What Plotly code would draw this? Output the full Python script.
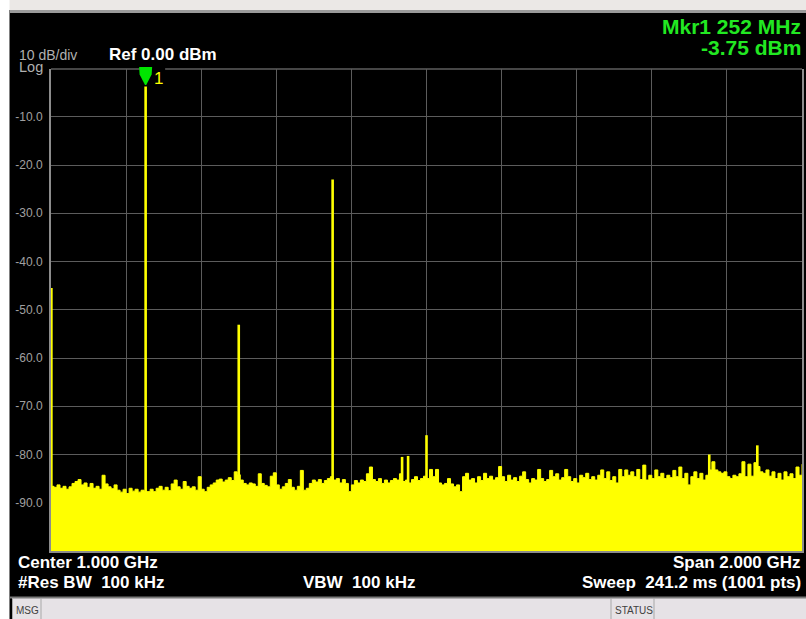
import plotly.graph_objects as go

# ---------------- data ----------------
center_ghz = 1.0
span_ghz = 2.0
noise_step_mhz = 8
noise_dbm = [
    -86.6, -86.8, -86.3, -87.0, -86.6, -87.2, -86.7, -86.0, -85.6, -85.2,
    -86.3, -85.9, -86.8, -86.0, -87.0, -86.6, -87.2, -84.3, -86.1, -86.7,
    -87.1, -86.3, -87.4, -87.8, -87.2, -88.1, -87.0, -87.6, -87.2, -87.8,
    -87.4, -87.6, -87.7, -87.2, -87.7, -87.0, -86.6, -87.4, -86.8, -87.5,
    -86.1, -85.3, -86.7, -87.2, -85.6, -86.6, -87.0, -86.7, -87.4, -84.6,
    -87.2, -87.7, -86.8, -86.3, -85.9, -85.3, -85.1, -85.7, -85.3, -84.8,
    -85.4, -83.6, -84.2, -85.3, -86.0, -86.3, -85.9, -86.1, -86.6, -84.0,
    -86.0, -86.4, -86.7, -84.5, -83.8, -86.3, -87.2, -86.7, -86.0, -85.2,
    -86.8, -87.4, -86.6, -83.3, -87.4, -87.0, -86.0, -85.3, -85.7, -85.2,
    -86.0, -85.4, -85.0, -84.6, -85.3, -85.0, -85.9, -85.2, -86.0, -87.7,
    -86.3, -85.4, -85.9, -85.3, -85.6, -84.0, -82.6, -85.2, -85.6, -85.0,
    -86.0, -85.3, -85.9, -85.4, -85.0, -85.3, -84.0, -85.6, -85.3, -85.9,
    -85.2, -84.6, -85.4, -85.0, -84.5, -85.0, -83.1, -84.6, -83.1, -85.9,
    -86.3, -86.0, -85.0, -86.1, -86.7, -86.3, -87.7, -84.6, -83.9, -85.3,
    -85.0, -85.9, -84.6, -85.4, -83.9, -85.0, -84.5, -85.3, -84.8, -82.5,
    -84.6, -85.6, -84.3, -85.3, -84.8, -85.6, -84.5, -83.6, -85.2, -85.9,
    -85.0, -85.3, -83.1, -85.0, -85.6, -85.2, -83.3, -84.6, -84.0, -85.3,
    -84.8, -83.1, -84.6, -85.6, -85.0, -85.9, -84.3, -84.8, -83.9, -85.2,
    -84.6, -85.3, -84.3, -83.2, -85.0, -83.6, -85.4, -84.6, -85.9, -83.1,
    -84.6, -83.2, -84.3, -83.6, -84.6, -83.1, -85.2, -82.2, -85.3, -84.3,
    -85.0, -83.2, -84.6, -83.9, -85.0, -84.3, -84.8, -83.3, -84.6, -82.6,
    -85.0, -83.9, -86.3, -84.6, -83.6, -85.0, -83.9, -85.3, -84.3, -83.2,
    -81.5, -83.2, -83.6, -83.9, -83.6, -84.6, -85.0, -84.3, -84.6, -84.0,
    -81.5, -84.6, -82.0, -84.5, -81.7, -82.5, -83.6, -83.9, -83.2, -84.5,
    -83.6, -85.0, -83.9, -85.3, -83.6, -84.6, -84.0, -85.0, -82.6, -84.3,
    -82.0,
]
noise_mhz = [i * noise_step_mhz for i in range(len(noise_dbm))]

spike_mhz = [1, 252, 500, 750, 935, 951, 1000, 1753, 1881]
spike_dbm = [-45.5, -3.75, -53.1, -23.0, -80.5, -80.3, -76.0, -80.0, -78.1]

mkr_mhz = 252
mkr_dbm = -3.75

ref_dbm = 0.0
db_per_div = 10
ytick_vals = [-10, -20, -30, -40, -50, -60, -70, -80, -90]
ytick_text = ["-10.0", "-20.0", "-30.0", "-40.0", "-50.0", "-60.0", "-70.0", "-80.0", "-90.0"]
xgrid_vals = [200, 400, 600, 800, 1000, 1200, 1400, 1600, 1800]

# ---------------- figure ----------------
W, H = 806, 619
def px(x):
    return x / W
def py(y):
    return 1 - y / H

f_lo = (center_ghz - span_ghz / 2) * 1000
f_hi = (center_ghz + span_ghz / 2) * 1000
y_lo = ref_dbm - 10 * db_per_div

XDOM = [px(51), px(802)]
YDOM = [py(551), py(68.5)]

YEL = "#ffff00"
GRID = "#5c5c5c"
FRAME = "#8c8c8c"
FONT = "Liberation Sans, Arial, sans-serif"

fig = go.Figure()

# baseline for fill
fig.add_trace(go.Scatter(x=[f_lo, f_hi], y=[y_lo, y_lo], mode="lines",
                         line=dict(width=0, color=YEL), hoverinfo="skip",
                         showlegend=False))
# noise floor
fig.add_trace(go.Scatter(x=noise_mhz, y=noise_dbm, mode="lines",
                         line=dict(color=YEL, width=1, shape="hv"),
                         fill="tonexty", fillcolor=YEL, showlegend=False))
# spurs / signals
sx, sy = [], []
for f, d in zip(spike_mhz, spike_dbm):
    sx += [f, f, None]
    sy += [y_lo, d, None]
fig.add_trace(go.Scatter(x=sx, y=sy, mode="lines",
                         line=dict(color=YEL, width=2.6), showlegend=False))

fig.update_layout(
    width=W, height=H,
    margin=dict(l=0, r=0, t=0, b=0),
    paper_bgcolor="black", plot_bgcolor="black",
    showlegend=False,
    xaxis=dict(domain=XDOM, range=[f_lo, f_hi],
               tickvals=xgrid_vals, showticklabels=False, ticks="",
               showgrid=True, gridcolor=GRID, gridwidth=1, zeroline=False,
               showline=True, linecolor=FRAME, linewidth=2, mirror=False,
               layer="below traces", fixedrange=True),
    yaxis=dict(domain=YDOM, range=[y_lo, ref_dbm],
               tickvals=ytick_vals, ticktext=ytick_text,
               ticks="outside", ticklen=4, tickcolor="rgba(0,0,0,0)",
               tickfont=dict(family=FONT, size=12, color="#a0a0a0"),
               showgrid=True, gridcolor=GRID, gridwidth=1, zeroline=False,
               showline=True, linecolor=FRAME, linewidth=2, mirror=True,
               layer="below traces", fixedrange=True),
)

# marker position in paper fraction (derived from the marker data), so the glyph is not clipped
mkr_xp = XDOM[0] + (mkr_mhz - f_lo) / (f_hi - f_lo) * (XDOM[1] - XDOM[0])
mkr_yp = YDOM[0] + (mkr_dbm - y_lo) / (ref_dbm - y_lo) * (YDOM[1] - YDOM[0])

shapes = []
# top frame in two pieces, gap around the marker
shapes.append(dict(type="line", xref="x", yref="y", x0=f_lo, x1=mkr_mhz - 12,
                   y0=ref_dbm, y1=ref_dbm, line=dict(color=FRAME, width=2), layer="below"))
shapes.append(dict(type="line", xref="x", yref="y", x0=mkr_mhz + 52, x1=f_hi,
                   y0=ref_dbm, y1=ref_dbm, line=dict(color=FRAME, width=2), layer="below"))
# marker glyph (shield shape pointing down at the marker peak, sized in pixels)
shapes.append(dict(type="path", xref="paper", yref="paper", xsizemode="pixel", ysizemode="pixel",
                   xanchor=mkr_xp, yanchor=mkr_yp,
                   path="M -6.5 19.5 L 6.5 19.5 L 6 12 L 0.6 1.5 L -0.6 1.5 L -6 12 Z",
                   fillcolor="#00e600", line=dict(width=0), layer="above"))
# window chrome
shapes.append(dict(type="rect", xref="paper", yref="paper", x0=0, x1=1,
                   y0=py(10), y1=1, fillcolor="#ebe8e6", line=dict(width=0)))
shapes.append(dict(type="line", xref="paper", yref="paper", x0=px(10), x1=1,
                   y0=py(11.5), y1=py(11.5), line=dict(color="#9a9a9a", width=3)))
shapes.append(dict(type="rect", xref="paper", yref="paper", x0=0, x1=px(9.5),
                   y0=0, y1=1, fillcolor="#ffffff", line=dict(width=0)))
shapes.append(dict(type="rect", xref="paper", yref="paper", x0=px(12), x1=1,
                   y0=0, y1=py(598), fillcolor="#e6e2e6", line=dict(width=0)))
shapes.append(dict(type="line", xref="paper", yref="paper", x0=px(10), x1=1,
                   y0=py(597.5), y1=py(597.5), line=dict(color="#7a7a7a", width=2)))
for xb in (12.5, 41, 611, 654):
    shapes.append(dict(type="line", xref="paper", yref="paper", x0=px(xb), x1=px(xb),
                       y0=0, y1=py(598), line=dict(color="#a8a8a8", width=1)))
fig.update_layout(shapes=shapes)

ann = []
def text(x, y, s, size, color, bold=False, anchor="left"):
    ann.append(dict(x=px(x), y=py(y), xref="paper", yref="paper", text=("<b>%s</b>" % s) if bold else s,
                    showarrow=False, xanchor=anchor, yanchor="middle",
                    font=dict(family=FONT, size=size, color=color)))

text(17, 54.5, "10 dB/div", 14, "#b0b0b0")
text(17, 66.5, "Log", 14.5, "#b0b0b0")
text(107, 54, "Ref %.2f dBm" % ref_dbm, 17, "#ffffff", bold=True)
text(803, 27, "Mkr1 %d MHz" % mkr_mhz, 21, "#22e822", bold=True, anchor="right")
text(803, 47, "%.2f dBm" % mkr_dbm, 21, "#22e822", bold=True, anchor="right")
text(152, 79, "1", 17, YEL)
text(16, 562, "Center %.3f GHz" % center_ghz, 17, "#ffffff", bold=True)
text(16, 582, "#Res BW\u00a0 100 kHz", 17, "#ffffff", bold=True)
text(301, 582, "VBW\u00a0 100 kHz", 17, "#ffffff", bold=True)
text(803, 562, "Span %.3f GHz" % span_ghz, 17, "#ffffff", bold=True, anchor="right")
text(803, 582, "Sweep\u00a0 241.2 ms (1001 pts)", 17, "#ffffff", bold=True, anchor="right")
text(14, 610, "MSG", 10, "#404040")
text(613, 610, "STATUS", 10, "#404040")
fig.update_layout(annotations=ann)

fig.write_html("out.html", config={"displayModeBar": False, "staticPlot": True},
               post_script="document.body.style.margin='0px';document.body.style.overflow='hidden';")
